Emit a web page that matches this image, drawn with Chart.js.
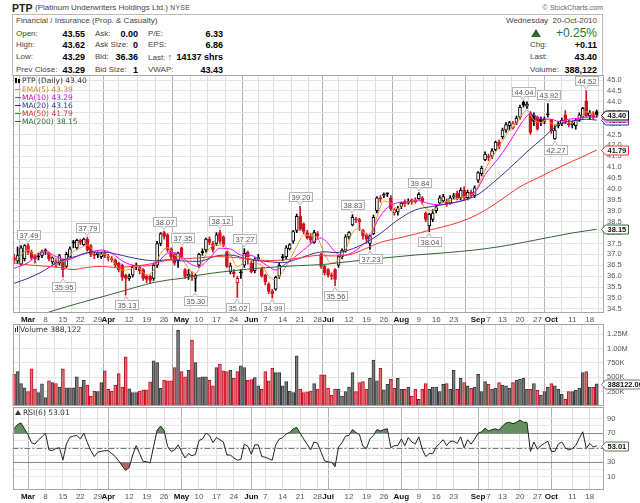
<!DOCTYPE html>
<html lang="en">
<head>
<meta charset="UTF-8" />
<title>PTP Daily - StockCharts style</title>
<style>
  * { margin: 0; padding: 0; box-sizing: border-box; }
  body {
    width: 640px; height: 503px; overflow: hidden; position: relative;
    background: #fff; color: #222;
    font-family: 'Liberation Sans', Arial, sans-serif;
  }
  .abs { position: absolute; white-space: nowrap; line-height: 10px; }
  .lbl { font-size: 8px; color: #444; }
  .val { font-size: 9px; font-weight: bold; color: #000; }
  .box { position: absolute; left: 12px; top: 14px; width: 591px; height: 62px; border: 1px solid #bbb; }
  canvas { position: absolute; left: 0; }
  .leg { position: absolute; left: 15px; font: 7.5px 'DejaVu Sans', sans-serif; line-height: 8px; white-space: nowrap; }
  .dash { display: inline-block; width: 6px; height: 1px; vertical-align: middle; margin-right: 1px; }
</style>
</head>
<body>
  <!-- header -->
  <div class="abs" style="left:12px;top:2px;font-weight:bold;font-size:10.5px;line-height:12px;">PTP</div>
  <div class="abs lbl" style="left:35px;top:3px;">(Platinum Underwriters Holdings Ltd.) <span style="font-size:6.5px;letter-spacing:0.6px;">NYSE</span></div>
  <div class="abs" style="right:37px;top:3px;font-size:7px;color:#666;">&copy; StockCharts.com</div>
  <div class="box"></div>

  <div class="abs lbl" style="left:16px;top:16px;">Financial / Insurance (Prop. &amp; Casualty)</div>

  <div class="abs lbl" style="left:16px;top:28.5px;">Open:</div>
  <div class="abs val" style="right:555px;top:28.5px;">43.55</div>
  <div class="abs lbl" style="left:95px;top:28.5px;">Ask:</div>
  <div class="abs val" style="right:502px;top:28.5px;">0.00</div>
  <div class="abs lbl" style="left:148px;top:28.5px;">P/E:</div>
  <div class="abs val" style="right:417px;top:28.5px;">6.33</div>

  <div class="abs lbl" style="left:16px;top:40px;">High:</div>
  <div class="abs val" style="right:555px;top:40px;">43.62</div>
  <div class="abs lbl" style="left:95px;top:40px;">Ask Size:</div>
  <div class="abs val" style="right:502px;top:40px;">0</div>
  <div class="abs lbl" style="left:148px;top:40px;">EPS:</div>
  <div class="abs val" style="right:417px;top:40px;">6.86</div>

  <div class="abs lbl" style="left:16px;top:52px;">Low:</div>
  <div class="abs val" style="right:555px;top:52px;">43.29</div>
  <div class="abs lbl" style="left:95px;top:52px;">Bid:</div>
  <div class="abs val" style="right:502px;top:52px;">36.36</div>
  <div class="abs lbl" style="left:148px;top:52px;">Last: <span style="color:#1d7a1d;font-weight:bold;font-size:9px;">&#8593;</span></div>
  <div class="abs val" style="right:417px;top:52px;">14137 shrs</div>

  <div class="abs lbl" style="left:16px;top:64.5px;">Prev Close:</div>
  <div class="abs val" style="right:555px;top:64.5px;">43.29</div>
  <div class="abs lbl" style="left:95px;top:64.5px;">Bid Size:</div>
  <div class="abs val" style="right:502px;top:64.5px;">1</div>
  <div class="abs lbl" style="left:148px;top:64.5px;">VWAP:</div>
  <div class="abs val" style="right:417px;top:64.5px;">43.43</div>

  <div class="abs lbl" style="right:43px;top:16px;">Wednesday&nbsp; 20-Oct-2010</div>
  <div class="abs" style="left:531px;top:29px;width:0;height:0;border-left:5px solid transparent;border-right:5px solid transparent;border-bottom:8px solid #2b6b2b;"></div>
  <div class="abs" style="right:43px;top:27px;font-size:12px;line-height:13px;color:#1e7a1e;">+0.25%</div>
  <div class="abs lbl" style="left:530px;top:40px;">Chg:</div>
  <div class="abs val" style="right:43px;top:40px;">+0.11</div>
  <div class="abs lbl" style="left:530px;top:52px;">Last:</div>
  <div class="abs val" style="right:43px;top:52px;">43.40</div>
  <div class="abs lbl" style="left:530px;top:64.5px;">Volume:</div>
  <div class="abs val" style="right:43px;top:64.5px;">388,122</div>

  <canvas id="priceChart" width="640" height="254" style="top:70px;"></canvas>
  <canvas id="volChart" width="640" height="88" style="top:320px;"></canvas>
  <canvas id="rsiChart" width="640" height="100" style="top:403px;"></canvas>

  <!-- panel legends -->
  <div class="leg" style="top:77px;color:#333;"><span style="display:inline-block;width:2px;height:5px;background:#000;margin-right:1px;"></span><span style="display:inline-block;width:2px;height:4px;border:1px solid #000;margin-right:2px;"></span>PTP (Daily) 43.40</div>
  <div class="leg" style="top:85.5px;color:#d0882a;"><span class="dash" style="background:#e69a2e;"></span>EMA(5) 43.39</div>
  <div class="leg" style="top:93.5px;color:#e000e0;"><span class="dash" style="background:#ff00ff;"></span>MA(10) 43.29</div>
  <div class="leg" style="top:101.5px;color:#333399;"><span class="dash" style="background:#333399;"></span>MA(20) 43.16</div>
  <div class="leg" style="top:109.5px;color:#e03030;"><span class="dash" style="background:#ff3333;"></span>MA(50) 41.79</div>
  <div class="leg" style="top:117.5px;color:#336633;"><span class="dash" style="background:#336633;"></span>MA(200) 38.15</div>
  <div class="leg" style="top:325.5px;color:#333;"><span style="display:inline-block;width:1px;height:4px;background:#333;margin-right:1px;"></span><span style="display:inline-block;width:1px;height:6px;background:#333;margin-right:2px;"></span>Volume 388,122</div>
  <div class="leg" style="top:408.5px;color:#333;"><span style="display:inline-block;width:0;height:0;border-left:3px solid transparent;border-right:3px solid transparent;border-bottom:5px solid #333;margin-right:2px;"></span>RSI(6) 53.01</div>

  <script src="https://cdn.jsdelivr.net/npm/chart.js"></script>
  <script>
    const FONT = "'Liberation Sans', Arial, sans-serif";

    // trading-day index: 0 = 1-Mar-2010, first bar is 23-Feb (-4), last is 20-Oct (163)
    const firstIndex = -4;
    const prevCloseStart = 36.80;

    const opens = [
      36.85,36.70,36.55,36.80,37.40,37.10,36.95,36.92,36.95,37.20,
      37.05,36.65,36.50,36.60,36.75,36.45,36.90,37.58,37.30,37.65,
      37.45,37.70,37.40,37.00,37.05,36.90,37.05,36.90,36.80,36.75,
      36.60,36.50,36.05,35.90,36.05,36.45,36.40,36.30,36.00,36.00,
      35.90,36.50,37.50,38.00,37.90,37.25,37.00,36.70,37.30,36.30,
      36.00,36.05,35.90,36.50,37.15,37.20,37.70,37.50,37.50,38.00,
      37.80,37.10,36.20,36.20,35.70,36.20,36.50,37.10,36.60,36.25,
      36.80,36.35,36.05,35.65,35.30,35.40,36.00,36.90,36.90,37.25,
      37.60,38.10,38.75,38.40,38.00,37.85,37.55,37.95,37.00,36.45,
      36.30,36.05,36.30,36.50,36.90,37.20,37.80,38.35,38.62,38.60,
      38.10,37.90,37.50,37.95,39.00,39.60,39.70,39.80,39.60,38.90,
      38.95,39.20,39.40,39.35,39.50,39.50,39.55,39.60,38.90,38.30,
      38.60,39.00,39.35,39.45,39.45,39.35,39.65,39.80,39.60,39.95,
      39.60,39.85,39.70,40.40,40.70,41.35,41.50,41.50,41.80,42.15,
      42.40,42.70,42.90,42.80,43.05,43.30,43.98,43.80,43.50,43.40,
      43.30,43.20,43.10,43.45,43.15,42.30,42.90,43.00,43.40,43.00,
      42.95,42.90,43.15,43.30,44.05,43.35,43.45,43.55
    ];
    const highs = [
      37.00,37.35,37.40,37.45,37.49,37.20,37.00,37.05,37.20,37.25,
      37.12,36.90,36.80,37.00,36.80,37.10,37.35,37.65,37.70,37.70,
      37.75,37.79,37.45,37.10,37.10,37.10,37.15,37.00,36.90,36.80,
      36.65,36.55,36.10,36.10,36.50,36.60,36.50,36.35,36.05,36.05,
      36.60,37.60,38.00,38.07,37.95,37.30,37.05,37.10,37.35,36.35,
      36.30,36.20,36.10,37.05,37.25,37.75,37.80,37.60,38.00,38.12,
      37.85,37.15,36.60,36.30,36.00,36.30,37.27,37.15,36.70,36.85,
      37.00,36.40,36.10,35.70,35.40,36.00,36.60,37.00,37.40,37.50,
      38.10,38.85,39.20,38.45,38.10,37.95,38.10,38.05,37.05,36.50,
      36.35,36.15,36.35,36.95,37.25,37.90,38.05,38.83,38.70,38.65,
      38.15,37.95,37.90,38.80,39.65,39.70,39.82,39.82,39.70,39.10,
      39.20,39.40,39.50,39.55,39.55,39.60,39.84,39.65,38.95,38.90,
      39.05,39.30,39.70,39.75,39.55,39.70,39.80,39.90,40.05,40.10,
      39.95,39.95,40.15,40.80,41.05,41.70,41.60,41.85,42.20,42.25,
      42.80,43.05,43.10,43.10,43.35,43.85,44.04,44.00,43.55,43.50,
      43.35,43.30,43.30,43.92,43.20,42.90,43.10,43.25,43.60,43.15,
      43.10,43.20,43.50,43.75,44.52,43.60,43.55,43.62
    ];
    const lows = [
      36.60,36.60,36.50,36.70,37.00,36.75,36.60,36.75,36.85,37.00,
      36.70,36.55,36.40,36.50,35.95,36.40,36.85,37.30,37.20,37.45,
      37.40,37.15,36.90,36.80,36.85,36.80,36.85,36.70,36.65,36.40,
      36.20,35.80,35.13,35.80,35.95,36.30,36.10,35.80,35.70,35.65,
      35.80,36.40,37.40,37.70,37.10,36.80,36.50,36.40,36.85,35.90,
      35.85,35.80,35.30,36.40,36.95,37.10,37.45,37.10,37.40,37.50,
      37.35,36.40,36.10,35.95,35.02,35.90,36.40,36.55,36.15,36.15,
      36.70,35.95,35.60,35.20,34.99,35.35,35.90,36.70,36.80,37.20,
      37.50,38.00,38.10,37.95,37.70,37.50,37.50,37.70,36.35,36.05,
      35.95,35.85,35.56,36.40,36.80,37.10,37.70,38.30,38.45,38.10,
      37.70,37.50,37.23,37.90,38.90,39.40,39.60,39.65,39.00,38.80,
      38.80,39.10,39.20,39.30,39.30,39.35,39.50,39.30,38.50,38.04,
      38.50,38.90,39.30,39.40,39.20,39.30,39.55,39.50,39.50,39.50,
      39.50,39.60,39.60,40.30,40.60,41.30,41.30,41.40,41.75,41.85,
      42.30,42.60,42.70,42.75,42.95,43.20,43.75,43.70,42.50,42.90,
      42.70,42.90,43.00,43.30,42.55,42.27,42.80,42.90,43.00,42.85,
      42.80,42.75,43.10,43.25,43.30,43.20,43.20,43.29
    ];
    const closes = [
      36.72,36.95,37.30,37.40,37.10,36.85,36.80,36.88,37.10,37.12,
      36.80,36.85,36.65,36.95,36.30,37.00,37.25,37.52,37.65,37.55,
      37.70,37.20,37.00,36.95,36.98,37.02,36.92,36.85,36.75,36.50,
      36.30,35.95,35.90,36.00,36.40,36.50,36.25,35.90,35.85,35.80,
      36.50,37.50,37.95,37.82,37.20,36.90,36.60,37.05,36.90,36.00,
      36.10,35.98,36.02,37.00,37.08,37.70,37.55,37.20,37.90,37.60,
      37.45,36.45,36.48,36.10,35.90,36.15,37.05,36.90,36.20,36.75,
      36.85,36.00,35.75,35.30,35.20,35.95,36.50,36.85,37.30,37.45,
      38.05,38.75,38.15,38.05,37.75,37.65,38.00,37.85,36.45,36.15,
      36.05,36.00,35.85,36.90,37.20,37.80,38.00,38.70,38.58,38.50,
      37.85,37.70,37.85,38.70,39.60,39.55,39.75,39.78,39.10,39.05,
      39.10,39.35,39.30,39.45,39.42,39.40,39.75,39.40,38.60,38.85,
      38.90,39.15,39.60,39.65,39.30,39.60,39.70,39.55,39.95,39.60,
      39.85,39.70,40.05,40.75,40.95,41.60,41.45,41.75,42.15,41.95,
      42.70,42.95,43.05,43.00,43.25,43.75,43.85,43.90,42.60,43.10,
      42.75,43.05,43.20,43.40,42.65,42.70,43.00,43.15,43.05,42.95,
      43.02,43.15,43.40,43.70,43.35,43.50,43.29,43.40
    ];

    // volume in thousands of shares
    const volumesK = [
      554,600,390,315,250,647,297,233,385,145,
      437,408,390,332,647,315,315,315,507,332,
      449,367,175,262,250,408,612,292,262,367,
      565,332,857,300,233,233,262,280,280,420,
      787,757,309,449,437,437,670,1320,600,507,
      624,1150,757,495,507,507,449,350,670,729,
      612,600,624,484,600,700,670,449,460,495,
      350,292,600,437,659,583,583,350,425,262,
      233,874,297,233,245,262,390,297,542,542,
      309,192,292,292,175,250,332,583,250,408,
      425,292,484,800,437,659,280,379,466,309,
      484,292,292,332,175,292,117,292,390,292,
      332,332,250,379,390,292,624,292,484,408,
      350,309,332,554,250,425,379,292,309,408,
      367,350,309,408,449,466,484,292,292,390,
      275,190,250,332,390,350,292,204,117,250,
      250,275,309,583,600,332,332,388.122
    ];

    const rsi6 = [
      76,82,84,76,68,57,55,61,65,70,
      47,46,49,50,33,55,64.5,66,67,62,
      70,57,46,38,44,45,46,46,42,38,
      32,25,19,23,40,53,42,31,31,29,
      52,74,80,74,52,45,47,54,45,36,
      42,39,41,60,62,70,67,57,64,61,
      58,40,40,36,33,34,55,52,41,54,
      54,38,37,35,33,54,62,64,69,71,
      76,78,70,62,55,47,58,56,44,32,
      30.5,30,24,51,57,66,67,75,71,68,
      52,49,62,67,75,73,75,76,50,53,
      53,62,53,64,58,55,65,48,38,42,
      42,51,56,61,53,59,59,56,65,50,
      61,55,62,70,72,77,73,75,76,74,
      80,84,85,83,85,88,85,85,45,58,
      48,53,56,59,45,45,55,58,50,47,
      49,53,63,72,49,56,51,53.01
    ];

    // moving averages: [day index, value]
    const ema5 = [[-4,36.62],[-2,36.97],[0,37.2],[2,36.97],[3,37.1],[5,37.15],[7,36.9],[9,36.67],[11,36.74],[13,37.13],[15,37.3],[17,37.43],[19,37.13],[21,37.0],[22,37.02],[24,36.75],[27,36.28],[29,36.3],[31,36.45],[34,36.06],[36,36.28],[38,37.05],[40,37.3],[42,36.97],[44,36.82],[46,36.36],[48,36.13],[50,36.67],[52,37.28],[54,37.43],[56,37.43],[58,37.0],[60,36.44],[62,36.67],[63,36.85],[65,36.6],[67,36.5],[69,36.0],[71,35.83],[73,36.21],[75,36.74],[77,37.36],[79,37.89],[81,37.85],[83,37.74],[85,37.0],[87,36.6],[89,36.74],[91,37.2],[93,38.0],[95,38.19],[97,37.89],[99,38.2],[100,38.7],[102,39.45],[104,39.34],[106,39.1],[108,39.3],[110,39.45],[112,39.5],[114,39.1],[116,39.0],[118,39.3],[120,39.42],[122,39.52],[124,39.6],[126,39.7],[128,39.85],[130,40.5],[132,41.2],[134,41.7],[136,42.2],[138,42.7],[140,43.0],[142,43.5],[143,43.6],[145,43.17],[147,43.05],[149,43.2],[150,43.0],[152,42.95],[154,43.12],[156,43.06],[158,43.25],[160,43.55],[162,43.4],[163,43.39]];
    const ma10 = [[-4,36.36],[0,36.62],[3,37.0],[5,37.12],[8,36.9],[11,36.74],[15,36.97],[18,37.1],[21,37.2],[24,37.05],[27,36.7],[30,36.51],[34,36.47],[37,36.62],[40,37.05],[42,37.08],[44,36.93],[46,36.62],[49,36.44],[52,36.82],[55,37.28],[58,37.25],[61,36.97],[64,36.95],[67,36.65],[69,36.44],[71,36.28],[73,36.47],[76,36.82],[79,37.2],[82,37.6],[84,37.75],[86,37.5],[88,37.12],[90,36.95],[93,37.08],[96,37.45],[98,37.75],[100,38.5],[103,39.15],[106,39.37],[109,39.42],[112,39.46],[115,39.33],[118,39.27],[121,39.33],[124,39.45],[127,39.65],[129,40.05],[131,40.65],[133,41.05],[135,41.45],[137,41.9],[139,42.4],[142,43.15],[144,43.45],[147,43.22],[150,43.2],[152,43.1],[155,43.2],[158,43.25],[161,43.3],[163,43.29]];
    const ma20 = [[-4,35.67],[0,35.9],[4,36.2],[9,36.68],[14,36.92],[18,37.1],[22,37.1],[27,36.95],[32,36.78],[37,36.7],[40,36.76],[44,36.7],[49,36.68],[54,36.93],[58,36.97],[63,36.78],[68,36.68],[73,36.62],[78,36.83],[82,37.05],[85,37.12],[88,37.08],[92,37.2],[97,37.55],[101,37.96],[106,38.58],[111,39.04],[116,39.2],[121,39.35],[125,39.48],[129,39.75],[133,40.25],[138,40.95],[143,41.7],[148,42.4],[152,42.95],[157,43.15],[160,43.2],[163,43.16]];
    const ma50 = [[-4,36.6],[0,36.52],[4,36.47],[9,36.4],[13,36.3],[16,36.38],[21,36.45],[25,36.4],[30,36.45],[35,36.56],[40,36.73],[45,36.8],[49,36.84],[54,36.9],[59,36.86],[64,36.78],[68,36.72],[73,36.74],[78,36.84],[83,36.95],[87,36.93],[92,36.98],[97,37.28],[101,37.55],[106,37.74],[111,37.93],[116,38.15],[121,38.35],[126,38.62],[131,39.02],[136,39.55],[141,40.1],[146,40.5],[151,40.9],[156,41.27],[160,41.56],[163,41.79]];
    const ma200 = [[-4,33.85],[5,34.3],[10,34.55],[15,34.78],[23,35.13],[30,35.45],[35,35.67],[40,35.82],[44,35.9],[49,36.05],[58,36.24],[68,36.39],[77,36.48],[85,36.54],[92,36.67],[101,36.82],[111,36.97],[120,37.08],[128,37.2],[135,37.35],[142,37.55],[150,37.8],[156,37.98],[163,38.15]];

    // swing-point callouts [day index, price]
    const calloutHigh = [[0,37.49],[17,37.79],[39,38.07],[44,37.35],[55,38.12],[62,37.27],[78,39.20],[93,38.83],[112,39.84],[142,44.04],[149,43.92],[160,44.52]];
    const calloutLow = [[10,35.95],[28,35.13],[48,35.30],[60,35.02],[70,34.99],[88,35.56],[98,37.23],[115,38.04],[151,42.27]];

    // axis ticks
    const xTicks = [0,5,10,15,20,23,29,34,39,44,49,54,59,64,68,73,78,83,86,92,97,102,107,112,117,122,129,132,136,141,146,150,156,161];
    const xLabels = ['Mar','8','15','22','29','Apr','12','19','26','May','10','17','24','Jun','7','14','21','28','Jul','12','19','26','Aug','9','16','23','Sep','7','13','20','27','Oct','11','18'];
    const priceTicks = [34.5,35.0,35.5,36.0,36.5,37.0,37.5,38.0,38.5,39.0,39.5,40.0,40.5,41.0,41.5,42.0,42.5,43.0,43.5,44.0,44.5,45.0];
    const volTicks = [250000,500000,750000,1000000,1250000];
    const volTickLabels = ['250K','500K','750K','1.00M','1.25M'];
    const rsiGrid = [10,20,30,40,50,60,70,80,90];
    const rsiLabelled = [10,30,50,70,90];

    const X_MIN = -4.45, X_MAX = 164.8;
    const RED = '#d3121f';
    const isMonth = v => { const k = xTicks.indexOf(v); return k >= 0 && /[A-Za-z]/.test(xLabels[k]); };
    const idx = k => firstIndex + k;
    const prevClose = k => (k === 0 ? prevCloseStart : closes[k - 1]);
    const downDay = closes.map((c, k) => c < prevClose(k));

    function xScale(showLabels, h) {
      return {
        type: 'linear', min: X_MIN, max: X_MAX, offset: false,
        afterBuildTicks: s => { s.ticks = xTicks.map(v => ({ value: v })); },
        afterFit: s => { s.height = h; s.paddingLeft = 0; s.paddingRight = 0; },
        grid: { color: c => (c.tick && isMonth(c.tick.value) ? '#b2b2b2' : '#dedede'), drawTicks: false },
        border: { display: false },
        ticks: {
          display: showLabels, autoSkip: false, maxRotation: 0, minRotation: 0, padding: showLabels ? 1.5 : 0,
          callback: (v, k) => xLabels[k],
          font: c => ({ family: FONT, size: 8, weight: c.tick && isMonth(c.tick.value) ? 'bold' : 'normal' }),
          color: c => (c.tick && isMonth(c.tick.value) ? '#111' : '#555')
        }
      };
    }
    function yScale(extra) {
      return Object.assign({
        position: 'right',
        afterFit: s => { s.width = 37; s.paddingTop = 0; s.paddingBottom = 0; },
        grid: { color: '#e4e4e4', drawTicks: false },
        border: { display: false }
      }, extra);
    }
    const yTickStyle = cb => ({ autoSkip: false, padding: 4, font: { family: FONT, size: 7.5 }, color: '#555', callback: cb });

    function drawFrame(chart) {
      const { ctx, chartArea: a } = chart;
      ctx.save();
      ctx.strokeStyle = '#a6a6a6';
      ctx.lineWidth = 1;
      ctx.strokeRect(Math.round(a.left) + 0.5, Math.round(a.top) + 0.5, Math.round(a.right - a.left) - 1, Math.round(a.bottom - a.top) - 1);
      ctx.restore();
    }
    function callout(ctx, px, py, text, above) {
      const w = Math.ceil(ctx.measureText(text).width) + 4, h = 9;
      const bx = Math.round(px - w / 2) + 0.5;
      const by = above ? Math.round(py - 5 - h) + 0.5 : Math.round(py + 5) + 0.5;
      const edge = above ? by + h : by;
      const tip = above ? py - 1.5 : py + 1.5;
      ctx.fillStyle = '#fff';
      ctx.strokeStyle = '#b4b4b4';
      ctx.fillRect(bx, by, w, h);
      ctx.strokeRect(bx, by, w, h);
      ctx.beginPath();
      ctx.moveTo(px - 2.5, edge); ctx.lineTo(px, tip); ctx.lineTo(px + 2.5, edge);
      ctx.fill(); ctx.stroke();
      ctx.fillStyle = '#555';
      ctx.textAlign = 'center';
      ctx.textBaseline = 'middle';
      ctx.fillText(text, bx + w / 2, by + h / 2 + 0.5);
    }
    function tag(chart, scale, value, text, color, textColor) {
      const { ctx, chartArea: a } = chart;
      const y = Math.round(scale.getPixelForValue(value)) + 0.5;
      ctx.save();
      ctx.font = 'bold 7.5px ' + FONT;
      const w = Math.ceil(ctx.measureText(text).width) + 4, h = 9;
      const x0 = Math.round(a.right) - 1.5;
      ctx.beginPath();
      ctx.moveTo(x0, y);
      ctx.lineTo(x0 + 4, y - h / 2);
      ctx.lineTo(x0 + 4 + w, y - h / 2);
      ctx.lineTo(x0 + 4 + w, y + h / 2);
      ctx.lineTo(x0 + 4, y + h / 2);
      ctx.closePath();
      ctx.fillStyle = '#fff'; ctx.fill();
      ctx.strokeStyle = color; ctx.lineWidth = 1; ctx.stroke();
      ctx.fillStyle = textColor || '#111';
      ctx.textBaseline = 'middle';
      ctx.fillText(text, x0 + 6, y + 0.5);
      ctx.restore();
    }
    const last = arr => arr[arr.length - 1][1];

    // ---------- price panel ----------
    const candleColor = downDay.map(d => (d ? RED : '#000'));
    const bodyFill = closes.map((c, k) => (c < opens[k] ? candleColor[k] : '#fff'));
    const lineSet = (data, color, order) => ({
      type: 'line', data: data.map(([x, y]) => ({ x, y })), borderColor: color, borderWidth: 1,
      pointRadius: 0, cubicInterpolationMode: 'monotone', order
    });

    new Chart(document.getElementById('priceChart'), {
      type: 'bar',
      data: {
        datasets: [
          lineSet(ma200, '#336633', 0),
          lineSet(ma50, '#ff3333', 0),
          lineSet(ma20, '#333399', 0),
          lineSet(ma10, '#ff00ff', 0),
          lineSet(ema5, '#e69a2e', 0),
          {
            data: opens.map((o, k) => ({ x: idx(k), y: [o, closes[k]] })),
            backgroundColor: bodyFill, borderColor: candleColor, borderWidth: 1,
            borderSkipped: false, barThickness: 3, minBarLength: 1, grouped: false, order: 1
          },
          {
            data: lows.map((l, k) => ({ x: idx(k), y: [l, highs[k]] })),
            backgroundColor: candleColor, borderWidth: 0, barThickness: 1, grouped: false, order: 2
          }
        ]
      },
      options: {
        responsive: false, animation: false, events: [],
        layout: { padding: { left: 12.5, right: 0, top: 5, bottom: 0 } },
        plugins: { legend: { display: false }, tooltip: { enabled: false } },
        scales: {
          x: xScale(true, 11),
          y: yScale({
            min: 34.31, max: 45.23,
            afterBuildTicks: s => { s.ticks = priceTicks.map(v => ({ value: v })); },
            ticks: yTickStyle(v => v.toFixed(1))
          })
        }
      },
      plugins: [{
        id: 'priceOverlay',
        afterDatasetsDraw(chart) {
          drawFrame(chart);
          const { ctx } = chart, xs = chart.scales.x, ys = chart.scales.y;
          ctx.save();
          ctx.font = '7.5px ' + FONT;
          ctx.lineWidth = 1;
          calloutHigh.forEach(([i, v]) => callout(ctx, Math.round(xs.getPixelForValue(i)), ys.getPixelForValue(v), v.toFixed(2), true));
          calloutLow.forEach(([i, v]) => callout(ctx, Math.round(xs.getPixelForValue(i)), ys.getPixelForValue(v), v.toFixed(2), false));
          ctx.restore();
        },
        afterDraw(chart) {
          const ys = chart.scales.y;
          tag(chart, ys, last(ma200), last(ma200).toFixed(2), '#336633');
          tag(chart, ys, last(ma50), last(ma50).toFixed(2), '#ff3333');
          tag(chart, ys, last(ma20), last(ma20).toFixed(2), '#333399');
          tag(chart, ys, last(ma10), last(ma10).toFixed(2), '#ff00ff');
          tag(chart, ys, closes[closes.length - 1], closes[closes.length - 1].toFixed(2), '#000');
        }
      }]
    });

    // ---------- volume panel ----------
    new Chart(document.getElementById('volChart'), {
      type: 'bar',
      data: {
        datasets: [{
          data: volumesK.map((v, k) => ({ x: idx(k), y: v * 1000 })),
          backgroundColor: downDay.map(d => (d ? '#d8727c' : '#7c7c7c')),
          borderColor: downDay.map(d => (d ? '#c8101c' : '#3a3a3a')),
          borderWidth: 1, borderSkipped: false, barThickness: 3, grouped: false
        }]
      },
      options: {
        responsive: false, animation: false, events: [],
        layout: { padding: { left: 12.5, right: 0, top: 4, bottom: 2 } },
        plugins: { legend: { display: false }, tooltip: { enabled: false } },
        scales: {
          x: xScale(false, 0),
          y: yScale({
            min: 0, max: 1430000,
            afterBuildTicks: s => { s.ticks = volTicks.map(v => ({ value: v })); },
            ticks: yTickStyle((v, k) => volTickLabels[k])
          })
        }
      },
      plugins: [{
        id: 'volOverlay',
        afterDatasetsDraw(chart) { drawFrame(chart); },
        afterDraw(chart) {
          const v = volumesK[volumesK.length - 1] * 1000;
          tag(chart, chart.scales.y, v, v.toFixed(2), '#777');
        }
      }]
    });

    // ---------- RSI panel ----------
    const rsiPoints = rsi6.map((v, k) => ({ x: idx(k), y: v }));
    new Chart(document.getElementById('rsiChart'), {
      type: 'line',
      data: {
        datasets: [
          {
            data: rsiPoints, borderColor: '#222', borderWidth: 1, pointRadius: 0, tension: 0,
            fill: { target: { value: 70 }, above: '#62905f', below: 'rgba(0,0,0,0)' }
          },
          {
            data: rsiPoints, borderWidth: 0, pointRadius: 0, tension: 0,
            fill: { target: { value: 30 }, above: 'rgba(0,0,0,0)', below: '#b46468' }
          }
        ]
      },
      options: {
        responsive: false, animation: false, events: [],
        layout: { padding: { left: 12.5, right: 0, top: 4, bottom: 0 } },
        plugins: { legend: { display: false }, tooltip: { enabled: false } },
        scales: {
          x: xScale(true, 13),
          y: yScale({
            min: -8, max: 106,
            afterBuildTicks: s => { s.ticks = rsiGrid.map(v => ({ value: v })); },
            grid: { color: '#e8e8e8', drawTicks: false },
            ticks: yTickStyle(v => (rsiLabelled.includes(v) ? v : ''))
          })
        }
      },
      plugins: [{
        id: 'rsiOverlay',
        beforeDatasetsDraw(chart) {
          const { ctx, chartArea: a } = chart, ys = chart.scales.y;
          ctx.save();
          ctx.lineWidth = 1;
          ctx.strokeStyle = '#8a8a8a';
          [70, 30].forEach(v => {
            const y = Math.round(ys.getPixelForValue(v)) + 0.5;
            ctx.beginPath(); ctx.moveTo(a.left, y); ctx.lineTo(a.right, y); ctx.stroke();
          });
          ctx.strokeStyle = '#777';
          ctx.setLineDash([6, 2, 2, 2]);
          const y50 = Math.round(ys.getPixelForValue(50)) + 0.5;
          ctx.beginPath(); ctx.moveTo(a.left, y50); ctx.lineTo(a.right, y50); ctx.stroke();
          ctx.restore();
        },
        afterDatasetsDraw(chart) { drawFrame(chart); },
        afterDraw(chart) {
          const v = rsi6[rsi6.length - 1];
          tag(chart, chart.scales.y, v, v.toFixed(2), '#4f7f4f');
        }
      }]
    });
  </script>
</body>
</html>
